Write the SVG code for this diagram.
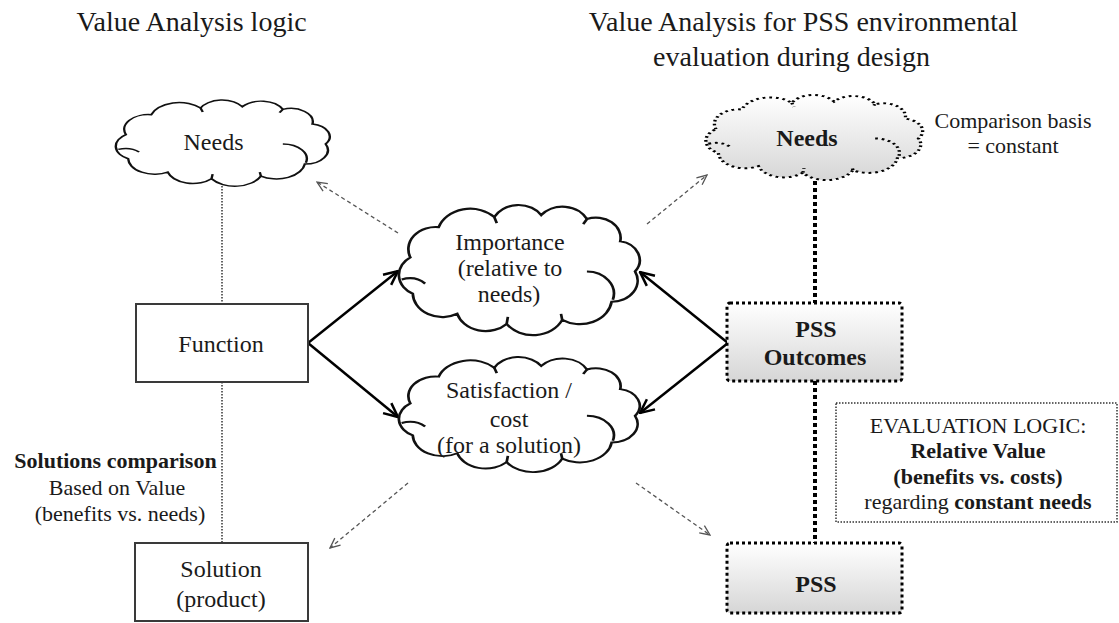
<svg xmlns="http://www.w3.org/2000/svg" width="1119" height="623" viewBox="0 0 1119 623">
<style>
text{font-family:"Liberation Serif","Times New Roman",serif;fill:#1a1a1a}
.t{font-size:28px}
.n{font-size:24px;text-anchor:middle}
.s{font-size:22px;text-anchor:middle}
.b{font-weight:bold}
.cloud{fill:#fff;stroke:#111;stroke-width:2.2;vector-effect:non-scaling-stroke}
.hook{fill:none;stroke:#111;stroke-width:2.2;vector-effect:non-scaling-stroke}
.dcloud{fill:url(#g);stroke:#000;stroke-width:3;stroke-dasharray:2.5 3.5;vector-effect:non-scaling-stroke}
.dhook{fill:none;stroke:#000;stroke-width:3;stroke-dasharray:2.5 3.5;vector-effect:non-scaling-stroke}
.box{fill:#fff;stroke:#3a3a3a;stroke-width:2}
.pbox{fill:url(#g);stroke:#000;stroke-width:3;stroke-dasharray:3 3}
.solid{stroke:#000;stroke-width:2.5;fill:none;marker-end:url(#ah)}
.dash{stroke:#555;stroke-width:1.3;stroke-dasharray:4 3;fill:none;marker-end:url(#dh)}
.thin{stroke:#333;stroke-width:1.5;stroke-dasharray:1.5 1.5;fill:none}
.thick{stroke:#000;stroke-width:4;stroke-dasharray:4 3;fill:none}
</style>
<defs>
<linearGradient id="g" x1="0" y1="0" x2="0" y2="1">
<stop offset="0" stop-color="#ffffff"/>
<stop offset="1" stop-color="#d6d6d6"/>
</linearGradient>
<marker id="ah" markerUnits="userSpaceOnUse" markerWidth="16" markerHeight="16" viewBox="0 0 16 16" refX="15" refY="8" orient="auto">
<path d="M1,1.5 L15,8 L1,14.5" fill="none" stroke="#000" stroke-width="2.5"/>
</marker>
<marker id="dh" markerUnits="userSpaceOnUse" markerWidth="12" markerHeight="12" viewBox="0 0 12 12" refX="11" refY="6" orient="auto">
<path d="M1,1.5 L11,6 L1,10.5" fill="none" stroke="#555" stroke-width="1.3"/>
</marker>
<path id="cl" d="M12,48 A22 22 0 0 1 35,18 A27 27 0 0 1 80,8 A22 22 0 0 1 118,6 A22 22 0 0 1 155,10 A20 20 0 0 1 182,32 A19 19 0 0 1 194,62 A21 21 0 0 1 175,92 A26 26 0 0 1 135,110 A26 26 0 0 1 90,114 A24 24 0 0 1 50,104 A24 24 0 0 1 14,84 A21 21 0 0 1 12,48 Z"/>
<path id="hk" d="M5,70 Q16,66 24,74 M155,62 A22 22 0 0 1 176,90 M90,114 L91,107 M135,110 L134,104 M80,8 L82,14 M155,10 L152,15"/>
</defs>

<text class="t" x="191.5" y="31" text-anchor="middle">Value Analysis logic</text>
<text class="t" x="803.5" y="31" text-anchor="middle">Value Analysis for PSS environmental</text>
<text class="t" x="791.5" y="66" text-anchor="middle">evaluation during design</text>

<g id="connectors">
<line class="thin" x1="222" y1="186" x2="222" y2="304"/>
<line class="thin" x1="222" y1="382" x2="222" y2="543"/>
<line class="thick" x1="815" y1="181" x2="815" y2="303"/>
<line class="thick" x1="815" y1="381" x2="815" y2="543"/>
<line class="solid" x1="308" y1="343" x2="398" y2="271"/>
<line class="solid" x1="308" y1="343" x2="398" y2="417"/>
<line class="solid" x1="728" y1="343" x2="640" y2="272"/>
<line class="solid" x1="728" y1="343" x2="640" y2="413"/>
<line class="dash" x1="398" y1="233" x2="317" y2="182"/>
<line class="dash" x1="647" y1="224" x2="707" y2="175"/>
<line class="dash" x1="408" y1="483" x2="330" y2="548"/>
<line class="dash" x1="636" y1="483" x2="710" y2="535"/>
</g>

<g id="needs-left">
<g transform="translate(112.8,102.7) scale(1.097,0.667)">
<use href="#cl" class="cloud"/><use href="#hk" class="hook"/>
</g>
<text class="n" x="213.5" y="150">Needs</text>
</g>

<g id="function">
<rect class="box" x="136" y="304" width="172" height="78"/>
<text class="n" x="221" y="352">Function</text>
</g>

<g id="solution">
<rect class="box" x="135" y="543" width="173" height="78"/>
<text class="n" x="221" y="577">Solution</text>
<text class="n" x="221" y="607">(product)</text>
</g>

<g id="solutions-comparison">
<text class="s b" x="115.5" y="468">Solutions comparison</text>
<text class="s" x="117" y="495">Based on Value</text>
<text class="s" x="120" y="521">(benefits vs. needs)</text>
</g>

<g id="importance">
<g transform="translate(395.5,209) scale(1.235,1.008)">
<use href="#cl" class="cloud"/><use href="#hk" class="hook"/>
</g>
<text class="n" x="510" y="250">Importance</text>
<text class="n" x="510" y="276">(relative to</text>
<text class="n" x="509" y="302">needs)</text>
</g>

<g id="satisfaction">
<g transform="translate(395.5,360.6) scale(1.235,0.891)">
<use href="#cl" class="cloud"/><use href="#hk" class="hook"/>
</g>
<text class="n" x="509" y="398">Satisfaction /</text>
<text class="n" x="509" y="427">cost</text>
<text class="n" x="509" y="453">(for a solution)</text>
</g>

<g id="needs-right">
<g transform="translate(702.8,97.6) scale(1.112,0.659)">
<use href="#cl" class="dcloud"/><use href="#hk" class="dhook"/>
</g>
<text class="n b" x="807" y="146">Needs</text>
</g>

<g id="comparison-basis">
<text class="s" x="1013" y="128">Comparison basis</text>
<text class="s" x="1013" y="153">= constant</text>
</g>

<g id="pss-outcomes">
<rect class="pbox" x="727" y="303" width="175" height="78" rx="3"/>
<text class="n b" x="816" y="337">PSS</text>
<text class="n b" x="815" y="365">Outcomes</text>
</g>

<g id="pss">
<rect class="pbox" x="727" y="543" width="175" height="70" rx="3"/>
<text class="n b" x="816" y="592">PSS</text>
</g>

<g id="evaluation-logic">
<rect x="836" y="403" width="281" height="119" fill="#fff" stroke="#333" stroke-width="1.5" stroke-dasharray="1.5 1.5"/>
<text class="s" x="978" y="433">EVALUATION LOGIC:</text>
<text class="s b" x="978" y="458">Relative Value</text>
<text class="s b" x="978" y="484">(benefits vs. costs)</text>
<text class="s" x="978" y="509">regarding <tspan font-weight="bold">constant needs</tspan></text>
</g>
</svg>
